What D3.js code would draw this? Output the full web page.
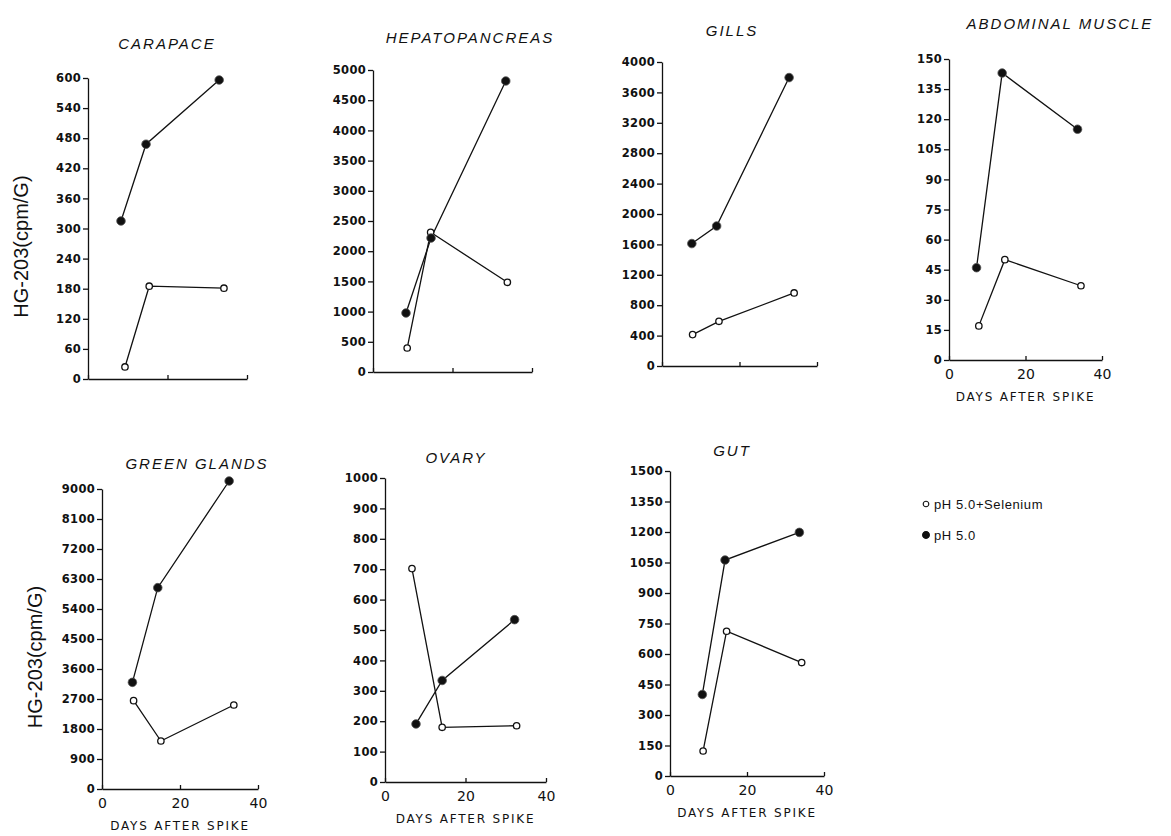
<!DOCTYPE html>
<html>
<head>
<meta charset="utf-8">
<script src="https://cdn.jsdelivr.net/npm/d3@7"></script>
<style>
  html, body { margin: 0; padding: 0; background: #fff; }
  svg { display: block; }
  .tick text { font-family: "DejaVu Sans", sans-serif; fill: #111; }
  .domain, .tick line { stroke: #111; stroke-width: 1.3; }
</style>
</head>
<body>
<svg id="chart" width="1171" height="836"></svg>
<script>
// Hg-203 uptake per tissue, two treatments, three sampling days
const organs = ["CARAPACE", "HEPATOPANCREAS", "GILLS", "ABDOMINAL MUSCLE", "GREEN GLANDS", "OVARY", "GUT"];
const yMax  = [600, 5000, 4000, 150, 9000, 1000, 1500];
const yStep = [60, 500, 400, 15, 900, 100, 150];
const xTicks = [0, 20, 40];

// pH 5.0 + Selenium (open circles)
const seDays = [
  [9.3, 15.4, 34.2], [8.6, 14.5, 33.8], [7.9, 14.7, 34.1], [7.8, 14.6, 34.5],
  [8.1, 15.1, 33.8], [6.7, 14.2, 32.7], [8.6, 14.7, 34.2]
];
const seValues = [
  [24, 185, 181], [397, 2313, 1485], [413, 588, 961], [17, 50, 37],
  [2650, 1440, 2520], [702, 180, 185], [123, 712, 558]
];

// pH 5.0 (filled circles)
const phDays = [
  [8.3, 14.6, 33.0], [8.3, 14.6, 33.4], [7.7, 14.1, 32.8], [7.2, 13.9, 33.6],
  [7.8, 14.3, 32.6], [7.7, 14.2, 32.2], [8.4, 14.3, 33.6]
];
const phValues = [
  [315, 468, 596], [977, 2218, 4818], [1611, 1842, 3795], [46, 143, 115],
  [3200, 6040, 9240], [191, 334, 534], [401, 1062, 1198]
];

const legendLabels = ["pH 5.0+Selenium", "pH 5.0"];
const yAxisLabel = "HG-203(cpm/G)";
const xAxisLabel = "DAYS AFTER SPIKE";

// panel frames (plot area) and decorations
const frames = [
  {l: 88,  t: 78,  w: 159, h: 301, tx: 167,  ty: 49,  xLabels: false, yLabel: true},
  {l: 373, t: 70,  w: 159, h: 302, tx: 470,  ty: 43,  xLabels: false, yLabel: false},
  {l: 662, t: 62,  w: 155, h: 304, tx: 732,  ty: 36,  xLabels: false, yLabel: false},
  {l: 949, t: 59,  w: 153, h: 301, tx: 1060, ty: 29,  xLabels: true,  yLabel: false},
  {l: 102, t: 489, w: 156, h: 300, tx: 197,  ty: 469, xLabels: true,  yLabel: true},
  {l: 385, t: 478, w: 161, h: 304, tx: 456,  ty: 463, xLabels: true,  yLabel: false},
  {l: 670, t: 471, w: 154, h: 305, tx: 732,  ty: 456, xLabels: true,  yLabel: false}
];

const svg = d3.select("#chart");

organs.forEach((name, i) => {
  const f = frames[i];
  const g = svg.append("g").attr("transform", `translate(${f.l},${f.t})`);
  const x = d3.scaleLinear().domain([0, 40]).range([0, f.w]);
  const y = d3.scaleLinear().domain([0, yMax[i]]).range([f.h, 0]);

  // y axis
  const yAxis = d3.axisLeft(y)
    .tickValues(d3.range(0, yMax[i] + yStep[i] / 2, yStep[i]))
    .tickSizeInner(5).tickSizeOuter(0).tickPadding(2)
    .tickFormat(d3.format("d"));
  g.append("g").call(yAxis)
    .selectAll("text").style("font-size", "11.5px").style("font-weight", "bold")
    .attr("letter-spacing", "0.3px");

  // x axis
  const xAxis = d3.axisBottom(x)
    .tickValues(xTicks).tickSizeInner(-4).tickSizeOuter(0).tickPadding(9)
    .tickFormat(f.xLabels ? d3.format("d") : () => "");
  g.append("g").attr("transform", `translate(0,${f.h})`).call(xAxis)
    .selectAll("text").style("font-size", "14px");

  if (f.xLabels) {
    g.append("text")
      .attr("x", f.w / 2).attr("y", f.h + 41)
      .attr("text-anchor", "middle")
      .attr("font-family", "DejaVu Sans, sans-serif")
      .attr("font-size", "12px").attr("letter-spacing", "1.8px")
      .attr("fill", "#111")
      .text(xAxisLabel);
  }

  // title
  svg.append("text")
    .attr("x", f.tx).attr("y", f.ty)
    .attr("text-anchor", "middle")
    .attr("font-family", "Liberation Sans, Arial, sans-serif")
    .attr("font-style", "italic")
    .attr("font-size", "15px").attr("letter-spacing", "2px")
    .attr("fill", "#111")
    .text(name);

  if (f.yLabel) {
    svg.append("text")
      .attr("transform", `translate(${f.l - 60},${f.t + f.h * 0.56}) rotate(-90)`)
      .attr("text-anchor", "middle")
      .attr("font-family", "Liberation Sans, Arial, sans-serif")
      .attr("font-size", "20px")
      .attr("fill", "#111")
      .text(yAxisLabel);
  }

  const line = d3.line().x(d => x(d[0])).y(d => y(d[1]));
  const se = seDays[i].map((d, k) => [d, seValues[i][k]]);
  const ph = phDays[i].map((d, k) => [d, phValues[i][k]]);

  [se, ph].forEach(pts => {
    g.append("path").datum(pts)
      .attr("d", line).attr("fill", "none")
      .attr("stroke", "#111").attr("stroke-width", 1.3);
  });

  g.selectAll("circle.se").data(se).join("circle")
    .attr("class", "se")
    .attr("cx", d => x(d[0])).attr("cy", d => y(d[1])).attr("r", 3.2)
    .attr("fill", "#fff").attr("stroke", "#111").attr("stroke-width", 1.3);

  g.selectAll("circle.ph").data(ph).join("circle")
    .attr("class", "ph")
    .attr("cx", d => x(d[0])).attr("cy", d => y(d[1])).attr("r", 4.3)
    .attr("fill", "#111").attr("stroke", "#555").attr("stroke-width", 0.8);
});

// legend
const legend = svg.append("g").attr("transform", "translate(926,504)");
legendLabels.forEach((lab, k) => {
  const row = legend.append("g").attr("transform", `translate(0,${k * 31})`);
  row.append("circle").attr("r", k === 0 ? 2.8 : 3.4)
    .attr("fill", k === 0 ? "#fff" : "#111")
    .attr("stroke", "#111").attr("stroke-width", 1.1);
  row.append("text").attr("x", 8).attr("y", 4.5)
    .attr("font-family", "Liberation Sans, Arial, sans-serif")
    .attr("font-size", "13px").attr("letter-spacing", "0.6px")
    .attr("fill", "#111")
    .text(lab);
});
</script>
</body>
</html>
